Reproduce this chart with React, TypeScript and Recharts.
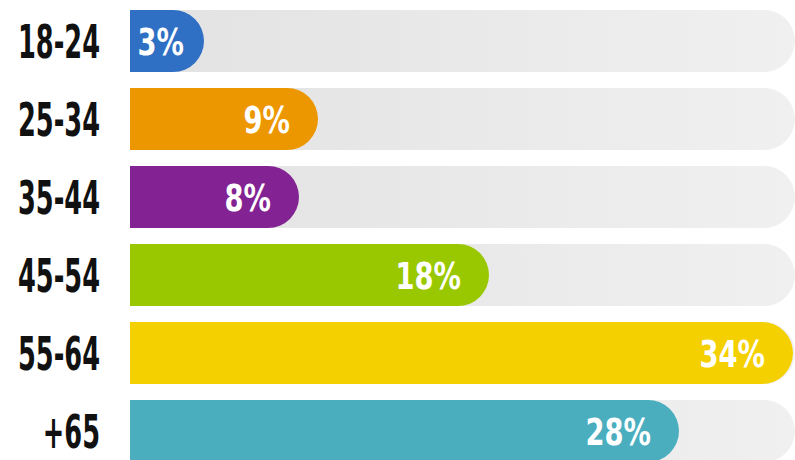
import React from 'react';
import { BarChart, Bar, XAxis, YAxis, Cell, LabelList } from 'recharts';

const categories = ['18-24', '25-34', '35-44', '45-54', '55-64', '+65'];
const shares = [3, 9, 8, 18, 34, 28];
const colors = ['#2f6fc4', '#ec9600', '#822293', '#99c800', '#f5d000', '#4aaebf'];

const data = categories.map((c, i) => ({ age: c, share: shares[i] }));

const FONT = "'DejaVu Sans Condensed', 'Liberation Sans Narrow', 'Noto Sans', sans-serif";
const CAP = 17;

const RoundBar = (props: any) => {
  const { x, y, width, height, fill } = props;
  const w = Math.max(width + CAP, height / 2);
  const r = height / 2;
  const path = `M${x},${y} H${x + w - r} A${r},${r} 0 0 1 ${x + w - r},${y + height} H${x} Z`;
  return <path d={path} fill={fill} />;
};

const TrackBg = (props: any) => {
  const { x, y, width, height } = props;
  const r = height / 2;
  const w = width;
  const path = `M${x},${y} H${x + w - r} A${r},${r} 0 0 1 ${x + w - r},${y + height} H${x} Z`;
  return <path d={path} fill="url(#trackGrad)" />;
};

const CatTick = (props: any) => {
  const { x, y, payload } = props;
  return (
    <g transform={`translate(${x - 22},${y + 17}) scale(0.62,1)`}>
      <text textAnchor="end" fontFamily={FONT} fontWeight="bold" fontSize={46} fill="#111">
        {payload.value}
      </text>
    </g>
  );
};

const ValueLabel = (props: any) => {
  const { x, y, width, height, value } = props;
  const right = Math.max(x + width + CAP - 28, x + 54);
  return (
    <g transform={`translate(${right},${y + height / 2 + 14}) scale(0.8,1)`}>
      <text
        textAnchor="end"
        fontFamily={FONT}
        fontWeight="bold"
        fontSize={38}
        fill="#ffffff"
      >
        {`${value}%`}
      </text>
    </g>
  );
};

export default function App() {
  return (
    <div style={{ position: 'absolute', left: 0, top: 0, width: 795, height: 460, overflow: 'hidden' }}>
      <BarChart
        width={795}
        height={470}
        data={data}
        layout="vertical"
        margin={{ top: 2, right: 0, bottom: 0, left: 0 }}
      >
        <defs>
          <linearGradient id="trackGrad" x1="0" y1="0" x2="1" y2="0">
            <stop offset="0%" stopColor="#e2e2e2" />
            <stop offset="100%" stopColor="#f0f0f0" />
          </linearGradient>
        </defs>
        <XAxis type="number" domain={[0, 35]} hide />
        <YAxis
          type="category"
          dataKey="age"
          width={130}
          axisLine={false}
          tickLine={false}
          tick={<CatTick />}
          interval={0}
        />
        <Bar
          dataKey="share"
          barSize={62}
          isAnimationActive={false}
          background={<TrackBg />}
          shape={<RoundBar />}
        >
          {data.map((d, i) => (
            <Cell key={d.age} fill={colors[i]} />
          ))}
          <LabelList dataKey="share" content={<ValueLabel />} />
        </Bar>
      </BarChart>
    </div>
  );
}
